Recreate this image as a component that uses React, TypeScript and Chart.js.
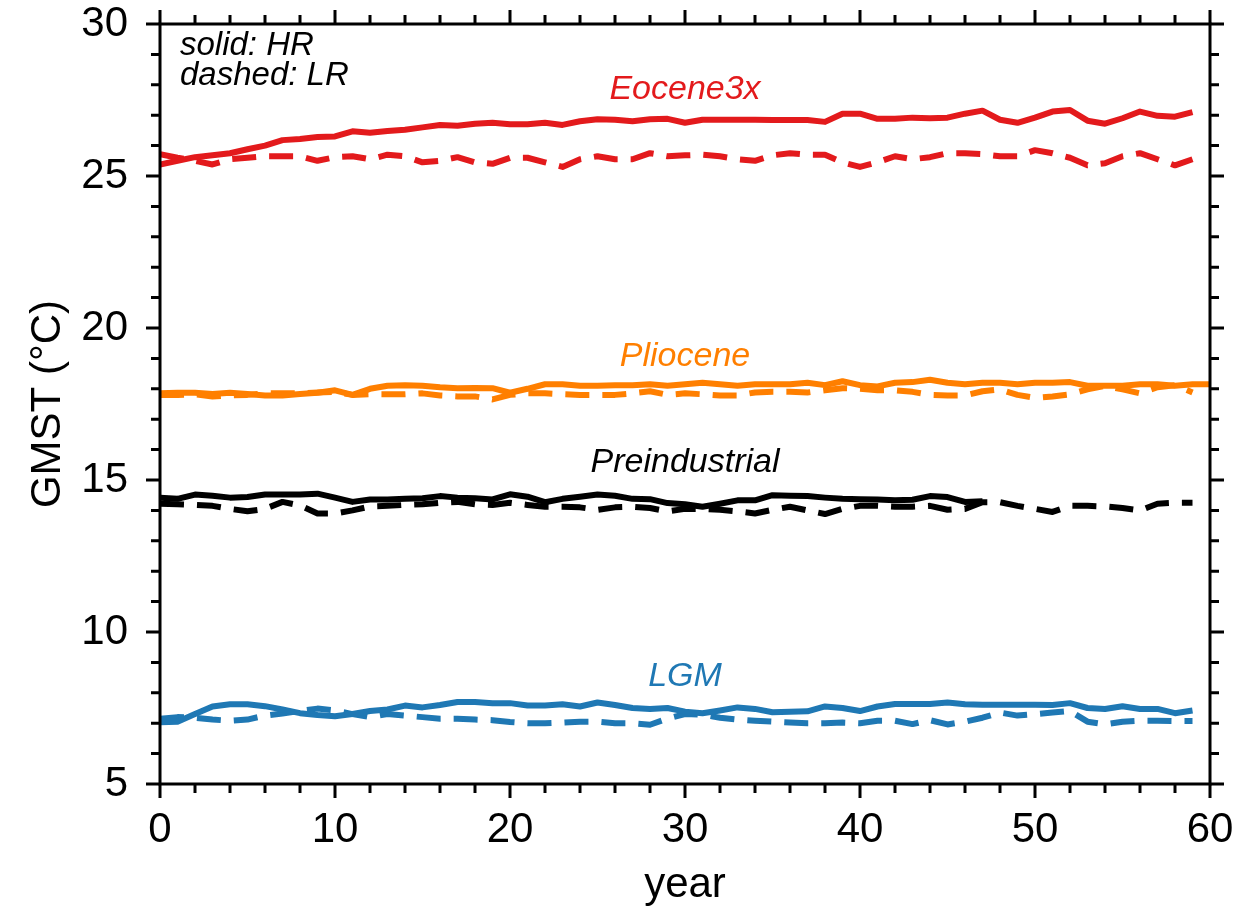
import React, { useEffect, useRef } from "react";
import { Chart, registerables } from "chart.js";

Chart.register(...registerables);

const years = [
  0, 1, 2, 3, 4, 5, 6, 7, 8, 9, 10, 11, 12, 13, 14, 15, 16, 17, 18, 19, 20,
  21, 22, 23, 24, 25, 26, 27, 28, 29, 30, 31, 32, 33, 34, 35, 36, 37, 38, 39,
  40, 41, 42, 43, 44, 45, 46, 47, 48, 49, 50, 51, 52, 53, 54, 55, 56, 57, 58,
  59, 60,
];

const eoceneHR = [
  25.38, 25.5, 25.62, 25.68, 25.75, 25.88, 26.0, 26.18, 26.22, 26.28,
  26.3, 26.47, 26.42, 26.48, 26.52, 26.6, 26.68, 26.65, 26.72, 26.75,
  26.7, 26.7, 26.75, 26.68, 26.8, 26.87, 26.85, 26.8, 26.87, 26.88,
  26.75, 26.85, 26.85, 26.85, 26.85, 26.84, 26.84, 26.84, 26.78, 27.05,
  27.05, 26.88, 26.88, 26.92, 26.9, 26.92, 27.05, 27.15, 26.85, 26.75,
  26.92, 27.12, 27.17, 26.82, 26.72, 26.9, 27.12, 26.98, 26.95, 27.1,
];
const eoceneLR = [
  25.72, 25.6, 25.5, 25.38, 25.55, 25.6, 25.65, 25.65, 25.65, 25.5,
  25.62, 25.65, 25.55, 25.7, 25.65, 25.45, 25.5, 25.62, 25.45, 25.4,
  25.6, 25.6, 25.45, 25.3, 25.55, 25.65, 25.55, 25.55, 25.75, 25.65,
  25.68, 25.7, 25.65, 25.55, 25.5, 25.68, 25.75, 25.7, 25.7, 25.45,
  25.3, 25.45, 25.65, 25.55, 25.62, 25.75, 25.75, 25.72, 25.65, 25.65,
  25.85, 25.75, 25.6, 25.35, 25.42, 25.65, 25.75, 25.55, 25.35, 25.55,
];
const pliHR = [
  17.85, 17.87, 17.87, 17.83, 17.87, 17.83, 17.78, 17.78, 17.83, 17.87,
  17.95, 17.8, 18.0, 18.1, 18.12, 18.1, 18.05, 18.02, 18.03, 18.02,
  17.87, 18.0, 18.15, 18.15, 18.1, 18.1, 18.12, 18.12, 18.15, 18.1,
  18.15, 18.2, 18.15, 18.1, 18.15, 18.15, 18.15, 18.2, 18.12, 18.25,
  18.12, 18.08, 18.2, 18.22, 18.3, 18.2, 18.15, 18.2, 18.2, 18.15,
  18.2, 18.2, 18.22, 18.1, 18.1, 18.1, 18.15, 18.15, 18.1, 18.15, 18.15,
];
const pliLR = [
  17.8, 17.8, 17.82, 17.75, 17.78, 17.8, 17.85, 17.85, 17.85, 17.88,
  17.9, 17.8, 17.82, 17.82, 17.82, 17.85, 17.78, 17.75, 17.75, 17.65,
  17.8, 17.85, 17.85, 17.82, 17.8, 17.8, 17.8, 17.85, 17.92, 17.8,
  17.85, 17.82, 17.78, 17.78, 17.88, 17.9, 17.9, 17.88, 17.95, 18.02,
  18.0, 17.95, 17.95, 17.9, 17.8, 17.78, 17.78, 17.92, 17.98, 17.8,
  17.7, 17.75, 17.82, 17.98, 18.1, 17.98, 17.85, 18.05, 18.12, 17.88,
];
const piHR = [
  14.42, 14.38, 14.52, 14.48, 14.42, 14.44, 14.52, 14.52, 14.52, 14.55,
  14.42, 14.28, 14.36, 14.36, 14.38, 14.4, 14.47, 14.42, 14.4, 14.36,
  14.53, 14.45, 14.27, 14.38, 14.45, 14.52, 14.48, 14.38, 14.37, 14.24,
  14.2, 14.12, 14.22, 14.33, 14.33, 14.5, 14.48, 14.47, 14.42, 14.38,
  14.37, 14.36, 14.33, 14.35, 14.47, 14.44, 14.28, 14.3,
];
const piLR = [
  14.22, 14.2, 14.18, 14.15, 14.05, 13.97, 14.05, 14.28, 14.16, 13.9,
  13.9, 14.0, 14.13, 14.15, 14.18, 14.2, 14.25, 14.28, 14.2, 14.18,
  14.25, 14.18, 14.12, 14.12, 14.1, 14.02, 14.1, 14.12, 14.08, 13.97,
  14.05, 14.05, 14.02, 13.97, 13.9, 14.02, 14.12, 14.0, 13.88, 14.05,
  14.15, 14.15, 14.12, 14.12, 14.15, 14.02, 14.05, 14.27, 14.27, 14.15,
  14.05, 13.95, 14.15, 14.15, 14.13, 14.08, 14.0, 14.22, 14.25, 14.25,
];
const lgmHR = [
  7.03, 7.05, 7.3, 7.55, 7.62, 7.62, 7.56, 7.45, 7.33, 7.27,
  7.23, 7.3, 7.4, 7.45, 7.58, 7.52, 7.6, 7.7, 7.7, 7.66,
  7.66, 7.58, 7.58, 7.62, 7.55, 7.68, 7.6, 7.5, 7.47, 7.5,
  7.38, 7.33, 7.42, 7.52, 7.47, 7.36, 7.38, 7.39, 7.55, 7.5,
  7.4, 7.55, 7.63, 7.63, 7.63, 7.68, 7.62, 7.61, 7.61, 7.61,
  7.61, 7.6, 7.66, 7.5, 7.47, 7.56, 7.47, 7.47, 7.33, 7.42,
];
const lgmLR = [
  7.15, 7.2, 7.18, 7.12, 7.08, 7.12, 7.25, 7.32, 7.4, 7.48,
  7.42, 7.3, 7.2, 7.3, 7.25, 7.2, 7.15, 7.15, 7.12, 7.1,
  7.04, 7.0, 7.0, 7.02, 7.05, 7.05, 7.0, 7.0, 6.95, 7.15,
  7.3, 7.28, 7.18, 7.12, 7.08, 7.05, 7.02, 7.0, 7.0, 7.02,
  7.0, 7.08, 7.08, 6.97, 7.1, 6.96, 7.05, 7.18, 7.35, 7.25,
  7.3, 7.35, 7.4, 7.05, 6.96, 7.05, 7.08, 7.08, 7.07, 7.07,
];

const xTicks = [0, 10, 20, 30, 40, 50, 60];
const yTicks = [5, 10, 15, 20, 25, 30];

const seriesLabels = ["Eocene3x", "Pliocene", "Preindustrial", "LGM"];
const seriesColors = ["#e31a1c", "#ff7f00", "#000000", "#1f78b4"];
const labelYValues = [27.83, 19.05, 15.58, 8.55];
const labelXValue = 30;

const FONT = '"Liberation Sans", Arial, Helvetica, sans-serif';

function pts(vals: number[]) {
  return vals.map((v, i) => ({ x: years[i], y: v }));
}

const framePlugin = {
  id: "frame",
  afterDatasetsDraw(chart: any) {
    const { ctx, chartArea } = chart;
    const { left, right, top, bottom } = chartArea;
    const xs = chart.scales.x;
    const ys = chart.scales.y;
    ctx.save();
    ctx.strokeStyle = "#000";
    ctx.lineWidth = 3;
    ctx.lineCap = "butt";
    ctx.strokeRect(left, top, right - left, bottom - top);
    const major = 14;
    const minor = 9;
    ctx.beginPath();
    for (let v = 0; v <= 60; v += 2) {
      const p = xs.getPixelForValue(v);
      const L = v % 10 === 0 ? major : minor;
      ctx.moveTo(p, bottom);
      ctx.lineTo(p, bottom + L);
      ctx.moveTo(p, top);
      ctx.lineTo(p, top - L);
    }
    for (let v = 5; v <= 30; v += 1) {
      const p = ys.getPixelForValue(v);
      const L = v % 5 === 0 ? major : minor;
      ctx.moveTo(left, p);
      ctx.lineTo(left - L, p);
      ctx.moveTo(right, p);
      ctx.lineTo(right + L, p);
    }
    ctx.stroke();

    ctx.font = `italic 34px ${FONT}`;
    ctx.textAlign = "center";
    ctx.textBaseline = "middle";
    seriesLabels.forEach((t, i) => {
      ctx.fillStyle = seriesColors[i];
      ctx.fillText(t, xs.getPixelForValue(labelXValue), ys.getPixelForValue(labelYValues[i]));
    });

    ctx.font = `italic 33px ${FONT}`;
    ctx.textAlign = "left";
    ctx.textBaseline = "alphabetic";
    ctx.fillStyle = "#000";
    ctx.fillText("solid: HR", left + 20, top + 31);
    ctx.fillText("dashed: LR", left + 20, top + 61);
    ctx.restore();
  },
};

export default function App() {
  const ref = useRef<HTMLCanvasElement | null>(null);
  useEffect(() => {
    if (!ref.current) return;
    const dash = [24, 13];
    const mk = (label: string, data: number[], color: string, dashed: boolean) => ({
      label,
      data: pts(data),
      borderColor: color,
      backgroundColor: color,
      borderWidth: 6,
      borderDash: dashed ? dash : [],
      pointRadius: 0,
      tension: 0,
      fill: false,
    });
    const chart = new Chart(ref.current, {
      type: "line",
      data: {
        datasets: [
          mk("Eocene3x HR", eoceneHR, seriesColors[0], false),
          mk("Eocene3x LR", eoceneLR, seriesColors[0], true),
          mk("Pliocene HR", pliHR, seriesColors[1], false),
          mk("Pliocene LR", pliLR, seriesColors[1], true),
          mk("Preindustrial HR", piHR, seriesColors[2], false),
          mk("Preindustrial LR", piLR, seriesColors[2], true),
          mk("LGM HR", lgmHR, seriesColors[3], false),
          mk("LGM LR", lgmLR, seriesColors[3], true),
        ],
      },
      options: {
        animation: false,
        responsive: false,
        devicePixelRatio: 1,
        layout: { padding: { top: 24, right: 43, left: 0, bottom: 0 } },
        elements: { line: { borderJoinStyle: "round", borderCapStyle: "butt" } },
        plugins: {
          legend: { display: false },
          tooltip: { enabled: false },
        },
        scales: {
          x: {
            type: "linear",
            min: 0,
            max: 60,
            afterBuildTicks: (s: any) => {
              s.ticks = xTicks.map((v) => ({ value: v }));
            },
            ticks: {
              font: { family: FONT, size: 42 },
              color: "#000",
              padding: 21,
              maxRotation: 0,
              autoSkip: false,
            },
            grid: { display: false, drawTicks: false },
            border: { display: false },
            title: {
              display: true,
              text: "year",
              color: "#000",
              font: { family: FONT, size: 42, lineHeight: 1 },
              padding: { top: 0, bottom: 2 },
            },
            afterFit: (s: any) => {
              s.height = 124;
              s.paddingLeft = 0;
              s.paddingRight = 0;
            },
          },
          y: {
            type: "linear",
            min: 5,
            max: 30,
            afterBuildTicks: (s: any) => {
              s.ticks = yTicks.map((v) => ({ value: v }));
            },
            ticks: {
              font: { family: FONT, size: 42 },
              color: "#000",
              padding: 32,
            },
            grid: { display: false, drawTicks: false },
            border: { display: false },
            title: {
              display: true,
              text: "GMST (°C)",
              color: "#000",
              font: { family: FONT, size: 42, lineHeight: 1 },
              padding: { top: 27, bottom: 0 },
            },
            afterFit: (s: any) => {
              s.width = 160;
              s.paddingTop = 0;
              s.paddingBottom = 0;
            },
          },
        },
      },
      plugins: [framePlugin],
    } as any);
    return () => chart.destroy();
  }, []);

  return (
    <div style={{ position: "fixed", left: 0, top: 0, width: 1253, height: 908, background: "#fff" }}>
      <canvas ref={ref} width={1253} height={908} style={{ width: 1253, height: 908, display: "block" }} />
    </div>
  );
}
